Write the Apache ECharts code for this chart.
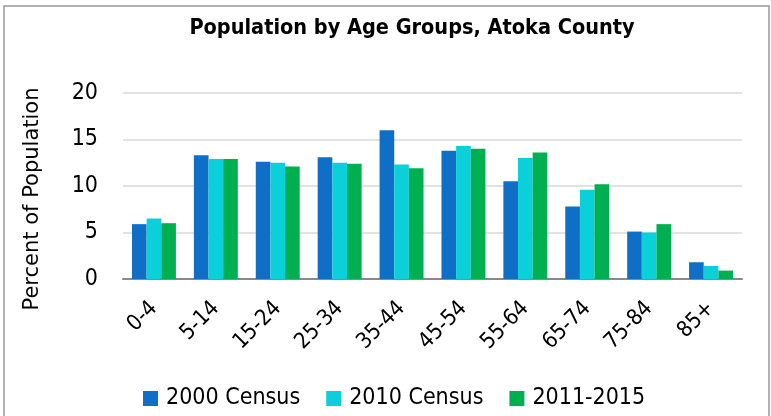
<!DOCTYPE html>
<html>
<head>
    <meta charset="utf-8">
    <script src="https://cdn.jsdelivr.net/npm/echarts@6/dist/echarts.min.js"></script>
    <style>
        html, body { margin: 0; padding: 0; background: #fff; overflow: hidden; }
    </style>
</head>
<body>
    <div id="chart" style="width: 771px; height: 416px;"></div>
<script type="text/javascript">
    // age groups on the x axis
    var ageGroups = ['0-4', '5-14', '15-24', '25-34', '35-44', '45-54', '55-64', '65-74', '75-84', '85+'];
    // percent of population
    var census2000 = [5.9, 13.3, 12.6, 13.1, 16.0, 13.8, 10.5, 7.8, 5.1, 1.8];
    var census2010 = [6.5, 12.9, 12.5, 12.5, 12.3, 14.3, 13.0, 9.6, 5.0, 1.4];
    var acs20112015 = [6.0, 12.9, 12.1, 12.4, 11.9, 14.0, 13.6, 10.2, 5.9, 0.9];
    var seriesNames = ['2000 Census', '2010 Census', '2011-2015'];
    var yTicks = [0, 5, 10, 15, 20];

    var FONT = '"DejaVu Sans Condensed", "Liberation Sans", sans-serif';
    var colors = ['#0F6FC6', '#0BD0D9', '#00B050'];

    function bar(name, data, i) {
        return {
            name: name,
            type: 'bar',
            data: data,
            barGap: '0%',
            barCategoryGap: '29%',
            itemStyle: { color: colors[i] }
        };
    }

    var option = {
        animation: false,
        title: {
            text: 'Population by Age Groups, Atoka County',
            left: 407,
            textAlign: 'center',
            top: 12,
            textStyle: { fontFamily: FONT, fontSize: 21.5, fontWeight: 'bold', color: '#000' }
        },
        graphic: [{
            type: 'rect',
            shape: { x: 4, y: 6, width: 765, height: 430 },
            style: { fill: null, stroke: '#999', lineWidth: 1.5 },
            z: -1
        }],
        legend: {
            data: seriesNames,
            top: 387,
            left: 143,
            padding: 0,
            itemWidth: 15,
            itemHeight: 15,
            itemGap: 26,
            icon: 'rect',
            textStyle: { fontFamily: FONT, fontSize: 23, color: '#000', padding: [0, 0, 0, 3] }
        },
        grid: { left: 123, right: 29, top: 93, bottom: 137 },
        xAxis: {
            type: 'category',
            data: ageGroups,
            axisTick: { show: false },
            axisLine: { lineStyle: { color: '#898989', width: 2 } },
            axisLabel: {
                rotate: 45,
                interval: 0,
                margin: 26,
                fontFamily: FONT, fontSize: 22, color: '#000'
            }
        },
        yAxis: {
            type: 'value',
            min: 0,
            max: 20,
            interval: 5,
            name: 'Percent of Population',
            nameLocation: 'middle',
            nameGap: 80,
            nameTextStyle: { fontFamily: '"DejaVu Sans", sans-serif', fontSize: 21, color: '#000', padding: [0, 26, 0, 0] },
            axisLabel: {
                margin: 25,
                fontFamily: FONT, fontSize: 23, color: '#000',
                formatter: function (v) { return yTicks.indexOf(v) >= 0 ? v : ''; }
            },
            splitLine: { lineStyle: { color: '#d9d9d9', width: 1.5 } }
        },
        series: [
            bar(seriesNames[0], census2000, 0),
            bar(seriesNames[1], census2010, 1),
            bar(seriesNames[2], acs20112015, 2)
        ]
    };

    var chart = echarts.init(document.getElementById('chart'));
    chart.setOption(option);
</script>
</body>
</html>
